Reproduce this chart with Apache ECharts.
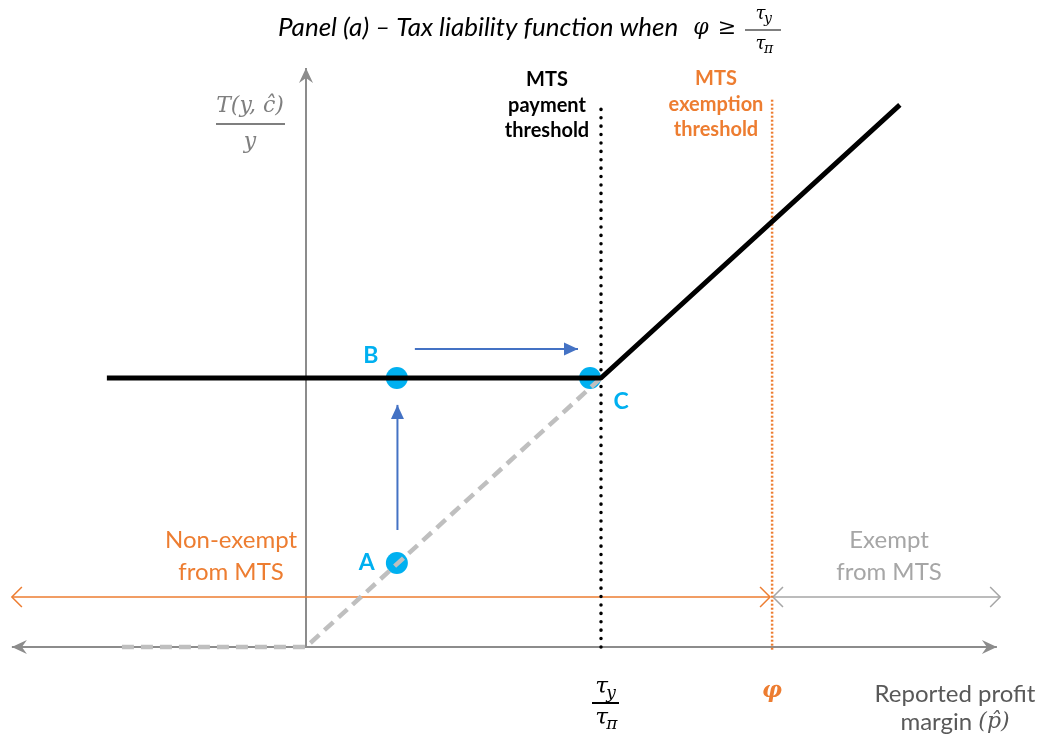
<!DOCTYPE html>
<html>
<head>
<meta charset="utf-8">
<script src="https://cdn.jsdelivr.net/npm/echarts@6/dist/echarts.min.js"></script>
<style>
  html, body { margin: 0; padding: 0; background: #fff; }
  #chart { width: 1045px; height: 741px; }
</style>
</head>
<body>
<div id="chart"></div>
<script>
// x: reported margin (1 = tau_y / tau_pi), y: T/y (1 = flat MTS level)
var taxLine = [[-0.675, 1], [1, 1], [2.013, 2.015]];
var hiddenLine = [[-0.624, 0], [0, 0], [1, 1]];
var pointNames = ['A', 'B', 'C'];
var pointValues = [[0.308, 0.312], [0.308, 1], [0.963, 1]];
var paymentLine = [[1, 0], [1, 2.026]];
var exemptionLine = [[1.58, -0.01], [1.58, 2.04]];
var xAxisLine = [[-0.997, 0, 2.342, 0]];
var yAxisLine = [[0, 0, 0, 2.152]];
var moves = [[0.31, 0.435, 0.31, 0.9], [0.369, 1.108, 0.922, 1.108]];
var nonExemptRange = [[-0.997, 0.186, 1.573, 0.186]];
var exemptRange = [[1.583, 0.186, 2.353, 0.186]];

var BLUE = '#00B0F0';
var ORANGE = '#ED7D31';
var AXIS = '#8c8c8c';
var TXT = 'Lato, "Open Sans", sans-serif';
var MATH = '"DejaVu Serif", serif';

var chart = echarts.init(document.getElementById('chart'));

function head (tip, from, kind, color, width) {
  var dx = tip[0] - from[0], dy = tip[1] - from[1];
  var len = Math.sqrt(dx * dx + dy * dy) || 1;
  dx /= len; dy /= len;
  var nx = -dy, ny = dx;
  var L, W;
  if (kind === 'open') {
    L = 10; W = 10;
    return {
      type: 'polyline',
      shape: { points: [[tip[0] - dx * L + nx * W, tip[1] - dy * L + ny * W], tip, [tip[0] - dx * L - nx * W, tip[1] - dy * L - ny * W]] },
      style: { stroke: color, lineWidth: width, fill: null }
    };
  }
  if (kind === 'notch') {
    L = 15; W = 7;
    return {
      type: 'polygon',
      shape: { points: [tip, [tip[0] - dx * L + nx * W, tip[1] - dy * L + ny * W], [tip[0] - dx * (L - 5), tip[1] - dy * (L - 5)], [tip[0] - dx * L - nx * W, tip[1] - dy * L - ny * W]] },
      style: { fill: color }
    };
  }
  L = 14; W = 6.5;
  return {
    type: 'polygon',
    shape: { points: [tip, [tip[0] - dx * L + nx * W, tip[1] - dy * L + ny * W], [tip[0] - dx * L - nx * W, tip[1] - dy * L - ny * W]] },
    style: { fill: color }
  };
}

function arrowSeries (data, color, width, startHead, endHead, kind) {
  return {
    type: 'custom',
    silent: true,
    data: data,
    encode: { x: [0, 2], y: [1, 3] },
    renderItem: function (params, api) {
      var p1 = api.coord([api.value(0), api.value(1)]);
      var p2 = api.coord([api.value(2), api.value(3)]);
      var kids = [{
        type: 'line',
        shape: { x1: p1[0], y1: p1[1], x2: p2[0], y2: p2[1] },
        style: { stroke: color, lineWidth: width }
      }];
      if (startHead) kids.push(head(p1, p2, kind, color, width));
      if (endHead) kids.push(head(p2, p1, kind, color, width));
      return { type: 'group', children: kids };
    }
  };
}

function txt (x, y, text, font, color, align, rich) {
  return {
    type: 'text', x: x, y: y, silent: true,
    style: { text: text, font: font, fill: color, rich: rich, align: align || 'center', verticalAlign: 'middle', textAlign: align || 'center', textVerticalAlign: 'middle' }
  };
}

// tau with a subscript, centred on cx
function tau (cx, cy, s, size, color) {
  return [
    txt(cx - size * 0.42, cy, 'τ', 'italic ' + size + 'px ' + MATH, color, 'left'),
    txt(cx + size * 0.05, cy + size * 0.28, s, 'italic ' + Math.round(size * 0.75) + 'px ' + MATH, color, 'left')
  ];
}

function bar (x1, x2, y, color, w) {
  return { type: 'line', silent: true, shape: { x1: x1, y1: y, x2: x2, y2: y }, style: { stroke: color, lineWidth: w } };
}

var graphics = [
  txt(278, 28, 'Panel (a) – Tax liability function when', 'italic 26px ' + TXT, '#000', 'left'),
  txt(701, 28, 'φ', 'italic 22px ' + MATH, '#000', 'center'),
  txt(727, 28, '≥', '22px ' + MATH, '#000', 'center'),
  bar(745, 781, 30, '#000', 1.2),
  txt(547, 80, 'MTS', 'bold 20px ' + TXT, '#000'),
  txt(547, 106, 'payment', 'bold 20px ' + TXT, '#000'),
  txt(547, 131, 'threshold', 'bold 20px ' + TXT, '#000'),
  txt(716, 79, 'MTS', 'bold 20px ' + TXT, ORANGE),
  txt(716, 105, 'exemption', 'bold 20px ' + TXT, ORANGE),
  txt(716, 130, 'threshold', 'bold 20px ' + TXT, ORANGE),
  txt(250, 106, 'T(y, ĉ)', 'italic 22px ' + MATH, '#7f7f7f'),
  bar(216, 285, 124, '#7f7f7f', 2),
  txt(250, 142, 'y', 'italic 22px ' + MATH, '#7f7f7f'),
  txt(231, 540, 'Non-exempt', '24px ' + TXT, ORANGE),
  txt(231, 572, 'from MTS', '24px ' + TXT, ORANGE),
  txt(889, 540, 'Exempt', '24px ' + TXT, '#a6a6a6'),
  txt(889, 572, 'from MTS', '24px ' + TXT, '#a6a6a6'),
  bar(592, 619, 703, '#000', 2),
  txt(772, 691, 'φ', 'bold italic 22px ' + MATH, ORANGE),
  txt(955, 694, 'Reported profit', '24px ' + TXT, '#595959'),
  txt(955, 722, '{a|margin }{m|(p̂)}', '24px ' + TXT, '#595959', 'center', {
    a: { fontSize: 24, fontFamily: TXT, color: '#595959' },
    m: { fontSize: 22, fontFamily: MATH, fontStyle: 'italic', color: '#595959' }
  })
];
graphics = graphics.concat(tau(763, 14, 'y', 18, '#000'), tau(763, 44, 'π', 18, '#000'),
  tau(605, 687, 'y', 23, '#000'), tau(605, 718, 'π', 23, '#000'));

var option = {
  animation: false,
  backgroundColor: '#fff',
  grid: { left: 11, right: 1.5, top: 1.4, bottom: 13.3 },
  xAxis: { type: 'value', min: -1, max: 2.5, show: false },
  yAxis: { type: 'value', min: -0.3, max: 2.4, show: false },
  graphic: graphics,
  series: [
    arrowSeries(xAxisLine, AXIS, 2, true, true, 'notch'),
    arrowSeries(yAxisLine, AXIS, 2, false, true, 'notch'),
    arrowSeries(nonExemptRange, ORANGE, 1.5, true, true, 'open'),
    arrowSeries(exemptRange, '#a6a6a6', 1.5, true, true, 'open'),
    {
      type: 'line', data: paymentLine, symbol: 'none', silent: true,
      lineStyle: { color: '#000', width: 3.5, type: [0.1, 8.3], cap: 'round' }
    },
    {
      type: 'line', data: exemptionLine, symbol: 'none', silent: true,
      lineStyle: { color: ORANGE, width: 2.5, type: [2, 2] }
    },
    {
      type: 'line', data: hiddenLine, symbol: 'none', silent: true,
      lineStyle: { color: '#bfbfbf', width: 4.5, type: [12, 7] }
    },
    {
      type: 'line', data: taxLine, symbol: 'none', silent: true,
      lineStyle: { color: '#000', width: 5 }
    },
    arrowSeries(moves, '#4472C4', 2, false, true, 'tri'),
    {
      type: 'scatter', silent: true, symbolSize: 22,
      itemStyle: { color: BLUE, opacity: 1 },
      data: pointValues.map(function (v, i) {
        var off = [[-30, 0], [-26, -22], [31, 24]][i];
        return {
          name: pointNames[i], value: v,
          label: { show: true, formatter: '{b}', position: 'inside', offset: off, color: BLUE, fontSize: 23, fontWeight: 'bold', fontFamily: TXT }
        };
      })
    }
  ]
};
chart.setOption(option);
window.addEventListener('resize', function () { chart.resize(); });
</script>
</body>
</html>
